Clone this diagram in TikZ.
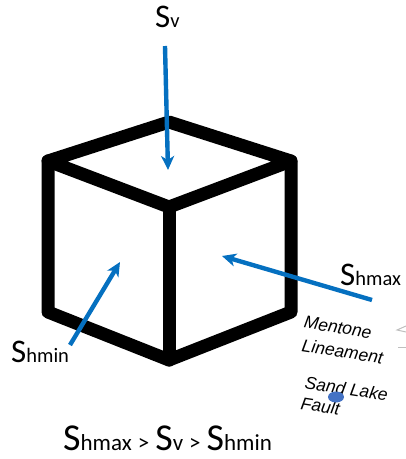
\documentclass[tikz,border=0pt]{standalone}
\usepackage{fontspec}
\setmainfont{Carlito}
\newfontfamily\lblfont{Liberation Sans}
\usetikzlibrary{arrows.meta}
\definecolor{forceblue}{RGB}{5,112,192}
\definecolor{dotblue}{RGB}{68,114,196}
\tikzset{
  cubeline/.style={line width=13pt,line join=round,line cap=round,black},
  force/.style={line width=4.4pt,draw=forceblue,-{Stealth[length=14pt,width=13pt,inset=4pt]}},
  big/.style={inner sep=0pt,anchor=base west},
  fault/.style={inner sep=0pt,anchor=west,font=\lblfont\itshape\fontsize{17.5}{18}\selectfont,rotate=-9},
  ghost/.style={line width=1pt,draw=black!25},
}
\newcommand{\stress}[1]{{\fontsize{33}{33}\selectfont S}{\fontsize{20.5}{21}\selectfont #1}}
\newcommand{\bigstress}[1]{{\fontsize{38}{38}\selectfont S}{\fontsize{23}{23}\selectfont #1}}
\newcommand{\gtsign}{{\fontsize{23}{23}\selectfont \hspace{6pt}>\hspace{6pt}}}
\begin{document}
\begin{tikzpicture}[x=1pt,y=-1pt]
\useasboundingbox (0,0) rectangle (406,459);
\coordinate (T) at (169,122);
\coordinate (L) at (48,161);
\coordinate (R) at (291,161);
\coordinate (C) at (169,207);
\coordinate (BL) at (48,312);
\coordinate (B) at (169,360);
\coordinate (BR) at (291,312);
\draw[cubeline] (C) -- (L) -- (T) -- (R) -- cycle;
\draw[cubeline] (L) -- (BL) -- (B) -- (BR) -- (R);
\draw[cubeline] (C) -- (B);
\coordinate (sva) at (165,46);
\coordinate (svb) at (168,170);
\coordinate (sxa) at (372,300);
\coordinate (sxb) at (222,256);
\coordinate (sna) at (70,345);
\coordinate (snb) at (120,262);
\draw[force] (sva) -- (svb);
\draw[force] (sxa) -- (sxb);
\draw[force] (sna) -- (snb);
\node[big] (lsv) at (155,27) {\stress{v}};
\node[big] (lsx) at (340,285) {\stress{hmax}};
\node[big] (lsn) at (11,362) {\stress{hmin}};
\node[big] (lrel) at (63,450) {\bigstress{hmax}\gtsign\bigstress{v}\gtsign\bigstress{hmin}};
\node[fault] (ml) at (304,322) {Mentone};
\node[fault] (ll) at (302,345) {Lineament};
\node[fault] (sl) at (305,382) {Sand Lake};
\node[fault] (fa) at (301,403) {Fault};
\fill[dotblue] (336,397) ellipse (8 and 5.5);
\coordinate (ga) at (406,326);
\coordinate (gb) at (397,330);
\coordinate (gc) at (406,332);
\coordinate (gd) at (398,347);
\coordinate (ge) at (406,347);
\draw[ghost] (ga) -- (gb) -- (gc);
\draw[ghost] (gd) -- (ge);
\end{tikzpicture}
\end{document}
